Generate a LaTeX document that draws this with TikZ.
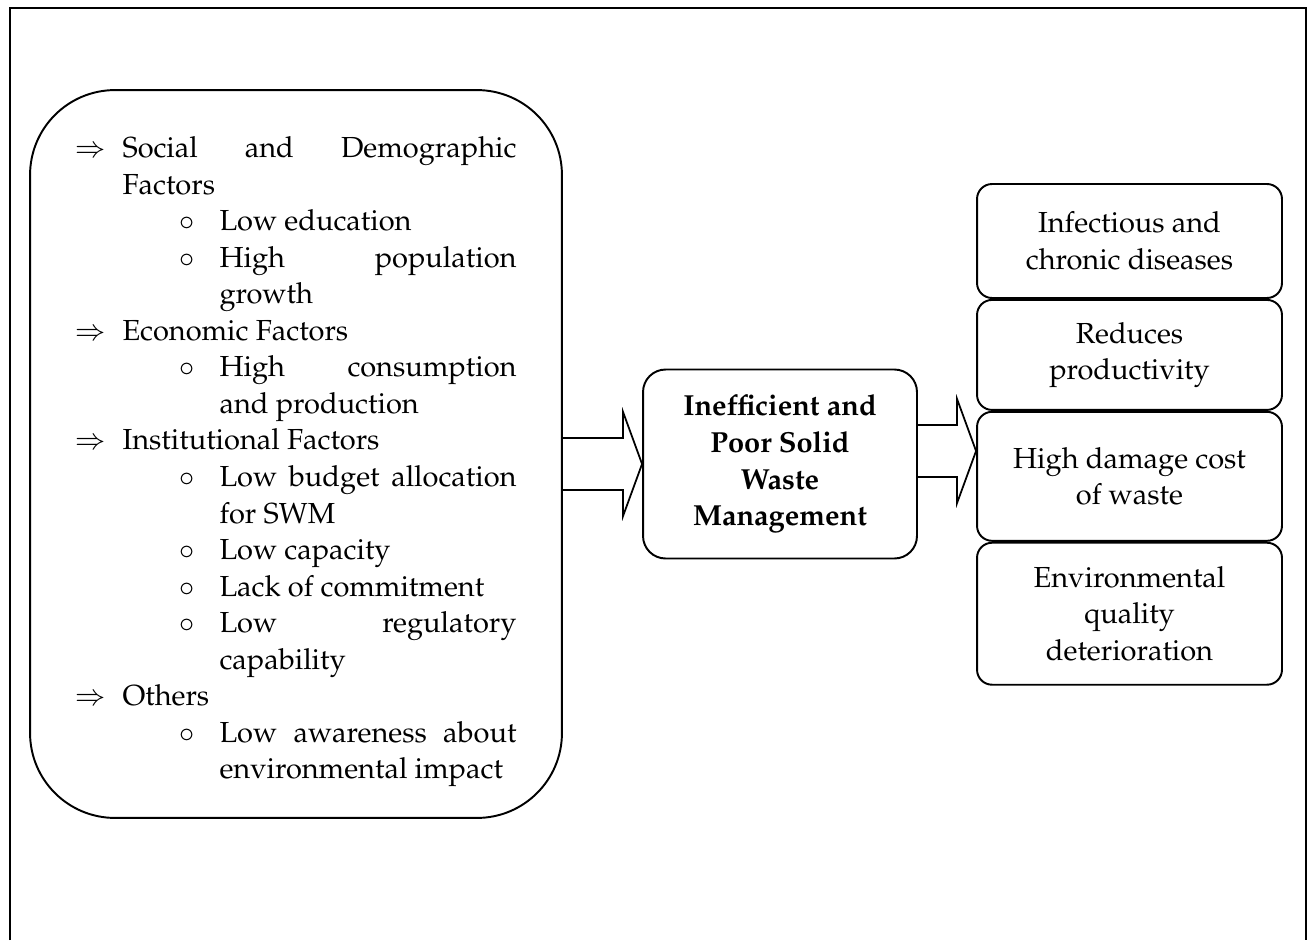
\documentclass[tikz,border=0pt]{standalone}
\usepackage[T1]{fontenc}
\usepackage{mathpazo}
\usetikzlibrary{positioning,calc}

% lists for the causes box
\newenvironment{factorlist}{\begin{list}{$\Rightarrow$}{%
  \setlength\leftmargin{0.94cm}\setlength\labelwidth{0.94cm}\setlength\labelsep{0pt}%
  \setlength\topsep{0pt}\setlength\partopsep{0pt}\setlength\itemsep{0pt}\setlength\parsep{0pt}%
  \renewcommand\makelabel[1]{##1\hfil}}}{\end{list}}
\newenvironment{sublist}{\begin{list}{$\circ$}{%
  \setlength\leftmargin{1.94cm}\setlength\labelwidth{0.8cm}\setlength\labelsep{0pt}%
  \setlength\topsep{0pt}\setlength\partopsep{0pt}\setlength\itemsep{0pt}\setlength\parsep{0pt}%
  \renewcommand\makelabel[1]{##1\hfil}}}{\end{list}}

% open block arrow ending at a tip
\newcommand{\fatarrow}[2]{%
  \draw[fat] ($(#1 |- #2)+(0,-26)$) -- ($(#2)+(-19,-26)$) -- ($(#2)+(-19,-52)$) -- (#2)
    -- ($(#2)+(-19,52)$) -- ($(#2)+(-19,26)$) -- ($(#1 |- #2)+(0,26)$);}

\begin{document}
\begin{tikzpicture}[x=0.02cm,y=-0.02cm,
  frame/.style={draw=black,line width=1.6pt},
  bigbox/.style={draw=black,line width=1.1pt,rounded corners=1.7cm,align=justify,
    text width=8.82cm,minimum width=10.64cm,minimum height=14.56cm,
    font=\fontsize{16.5}{20.8}\selectfont},
  corebox/.style={draw=black,line width=1.1pt,rounded corners=0.45cm,align=center,
    minimum width=5.48cm,minimum height=3.78cm,font=\fontsize{16.5}{20.8}\selectfont\bfseries},
  effect/.style={draw=black,line width=1.1pt,rounded corners=0.3cm,align=center,
    minimum width=6.1cm,inner sep=0pt,font=\fontsize{16.5}{20.8}\selectfont},
  fat/.style={draw=black,line width=1pt,line join=miter},
]
\useasboundingbox (0,0) rectangle (1308,940);
\draw[frame] (10,940) |- (1306,8) -- (1306,940);

\hyphenpenalty=10000
\node[bigbox] (causes) at (296,454) {%
\begin{factorlist}
\item Social and Demographic\linebreak Factors
  \begin{sublist}
  \item Low education
  \item High population\linebreak growth
  \end{sublist}
\item Economic Factors
  \begin{sublist}
  \item High consumption\linebreak and production
  \end{sublist}
\item Institutional Factors
  \begin{sublist}
  \item Low budget allocation\linebreak for SWM
  \item Low capacity
  \item Lack of commitment
  \item Low regulatory\linebreak capability
  \end{sublist}
\item Others
  \begin{sublist}
  \item Low awareness about\linebreak environmental impact
  \end{sublist}
\end{factorlist}};

\node[corebox] (swm) at (780,464) {Inefficient and\\Poor Solid\\Waste\\Management};

\node[effect,minimum height=2.28cm] (inf) at (1129.5,241) {Infectious and\\chronic diseases};
\node[effect,minimum height=2.2cm,below=0pt of inf] (prod) {Reduces\\productivity};
\node[effect,minimum height=2.58cm,below=0pt of prod] (cost) {High damage cost\\of waste};
\node[effect,minimum height=2.84cm,below=0pt of cost] (env) {Environmental\\quality\\deterioration};

\coordinate (tipb) at ($(swm.east -| cost.west)+(0,-13)$);
\fatarrow{causes.east}{swm.west}
\fatarrow{swm.east}{tipb}
\end{tikzpicture}
\end{document}
